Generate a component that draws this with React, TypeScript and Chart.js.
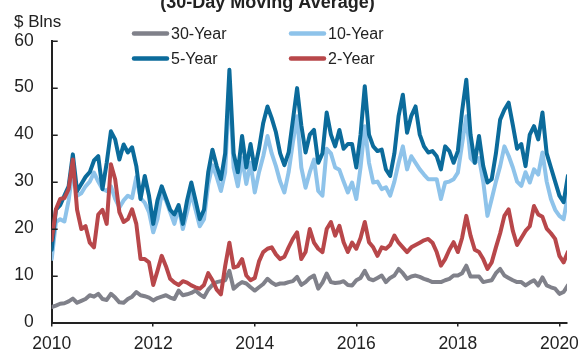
import React, { useEffect, useRef } from 'react';
import { Chart, registerables } from 'chart.js';

Chart.register(...registerables);

// Monthly readings, Jan 2010 .. Mar 2020 ($ billions, 30-day moving average)
const START_YEAR = 2010;

const thirtyYear = [
  3.3, 3.6, 4, 4.1, 4.5, 5.1, 4.2, 4.6, 5, 5.8, 5.5, 6.1,
  5, 4.8, 6.1, 5.3, 4.3, 4.2, 5, 5.5, 6.5, 5.8, 5.6, 5.3,
  4.7, 5.2, 5.5, 5.8, 5.3, 5, 6.8, 5.8, 6, 6.3, 6.8, 6,
  5.4, 7, 8, 8.6, 8.8, 9, 11, 7.2, 8, 8.6, 8.3, 7.5,
  6.8, 7.5, 8.2, 9.3, 8.5, 8, 8.3, 8.3, 8.6, 8.8, 9.7, 8,
  8.6, 9.5, 10, 7.2, 8.5, 10.4, 8.6, 8.4, 8.5, 8.8, 8, 7.9,
  9, 9.5, 11, 9.3, 9, 9.5, 10, 8.6, 9.5, 10, 11.4, 10.5,
  9.3, 9.8, 10, 9.7, 9.3, 9, 8.6, 8.6, 8.6, 9, 9.3, 10,
  10, 10.5, 12.1, 9.8, 9.8, 9.8, 8.6, 8.8, 9, 10.5, 11.4, 10,
  9.5, 9, 8.6, 8.6, 7.9, 8.5, 9, 7.9, 9.6, 7.9, 7.5, 7.2,
  6.1, 6.5, 7.9,
];

const tenYear = [
  13.5, 21.4, 22, 21.5, 26, 32.6, 27, 27.5, 29, 30, 31.9, 30,
  28.4, 28, 29, 26.3, 24.5, 26, 27, 26.5, 31, 26.5, 25.5, 23.5,
  19.2, 22, 27.5, 26, 23.5, 21, 24.5, 19.9, 23.5, 27.5, 24, 20.5,
  22, 29.5, 33.5, 31, 28, 32, 51, 33, 29, 35, 29.5, 34,
  27.7, 32, 35.4, 39.7, 36, 33.3, 30, 27.7, 32, 38.3, 43.9, 33,
  28.7, 32, 34.7, 28, 27, 37, 36, 33, 32.5, 30, 27.7, 29.8,
  26.3, 33, 41.8, 34, 29.8, 30, 28.4, 28.8, 27, 30, 34, 37.5,
  32.6, 35.4, 34, 32.6, 31.5, 30.5, 30.5, 30.5, 26.3, 29.8, 30, 30.5,
  31.9, 38, 43.9, 35, 34, 35, 30, 22.7, 26.3, 30, 33.3, 37.5,
  35.5, 33, 30, 29.1, 32, 29.8, 32.6, 31.5, 36.2, 30, 26.3, 24,
  22.7, 22, 27,
];

const fiveYear = [
  15.5, 24, 25, 27, 29, 35.8, 28, 29.5, 31, 32, 34.5, 35.4,
  28.4, 34, 40.7, 39, 34.7, 37.9, 36.2, 37.3, 33.3, 26.3, 31.2, 27,
  21, 26, 29, 26.5, 24, 23, 25, 21, 26, 29.8, 26, 22,
  24, 32, 36.8, 33.3, 30.5, 36, 53.8, 36, 32, 39.7, 33, 38,
  32.6, 37, 42.5, 46, 43.5, 40.5, 36, 33.5, 36.2, 43, 49.9, 42,
  36.2, 40, 41, 34, 36, 44.7, 40, 37.5, 41, 37, 38, 38,
  33, 40, 50.3, 40, 37.5, 36.5, 36.8, 32.6, 31.2, 36, 44, 48.5,
  40.4, 44, 46, 40, 37.5, 36.2, 36.5, 35.4, 32.6, 37.5, 36.5, 34,
  36.5, 45, 51.7, 40, 34, 39.7, 33.3, 29.8, 30.5, 36, 43.2, 45.3,
  46.8, 42, 37, 38, 33.3, 40, 41.8, 39, 44.7, 36, 33, 30,
  27, 25.6, 31.2,
];

const twoYear = [
  17.5, 24.1, 26.3, 26.5, 28.4, 34.7, 24, 19.9, 20.5, 17, 16, 23,
  24, 21, 33.7, 30.5, 23.5, 21.4, 22, 24.1, 21, 13.5, 13.5, 12.8,
  8, 11, 14.2, 12, 9.3, 8.5, 8, 8.8, 8.5, 7.9, 7.5, 7.2,
  8, 10.5, 9, 7, 6, 12, 17, 11.7, 12, 13.5, 10, 9,
  9.5, 13, 15, 15.7, 16, 14.5, 13.5, 14, 16, 17.8, 19.2, 13.5,
  15, 19.9, 17, 15.7, 15, 19.9, 21.4, 18.5, 20.6, 17.1, 15, 17,
  15.7, 18, 21.4, 17.1, 16, 14.2, 16, 15.7, 16.5, 18.5, 17, 16,
  15, 16, 16.5, 17, 17.5, 17.8, 17, 15, 12.1, 13.5, 15.5, 17.1,
  15, 18, 22.7, 18.5, 15.5, 15, 13.5, 11.4, 12.8, 16, 19, 22.7,
  24.1, 19.5, 16.5, 18, 19.5, 20.5, 24.8, 23, 22.5, 20, 19, 17.8,
  14.2, 12.8, 15,
];

const xTickYears = [2010, 2012, 2014, 2016, 2018, 2020];
const yTickValues = [0, 10, 20, 30, 40, 50, 60];

const seriesLabels = ['30-Year', '10-Year', '5-Year', '2-Year'];
const GRAY = '#80818a';
const LIGHT_BLUE = '#8ec3ea';
const DARK_BLUE = '#0b6b9b';
const RED = '#b8474a';
const seriesColors = [GRAY, LIGHT_BLUE, DARK_BLUE, RED];

const titleText = '(30-Day Moving Average)';
const unitText = '$ Blns';
const FONT = '"Liberation Sans", Arial, sans-serif';
const TEXT = '#222222';

function toPoints(vals: number[]) {
  return vals.map((v, i) => ({ x: START_YEAR + i / 12, y: v }));
}

const overlayPlugin = {
  id: 'overlay',
  afterDraw(chart: any) {
    const ctx = chart.ctx as CanvasRenderingContext2D;
    const { chartArea } = chart;
    const yScale = chart.scales.y;
    ctx.save();
    // inward y ticks
    ctx.strokeStyle = TEXT;
    ctx.lineWidth = 1.5;
    yTickValues.forEach((v) => {
      if (v === 0) return;
      const y = Math.round(yScale.getPixelForValue(v)) + 0.25;
      ctx.beginPath();
      ctx.moveTo(chartArea.left, y);
      ctx.lineTo(chartArea.left + 6, y);
      ctx.stroke();
    });
    // title (partially visible)
    ctx.fillStyle = TEXT;
    ctx.font = `bold 18px ${FONT}`;
    ctx.textAlign = 'center';
    ctx.textBaseline = 'alphabetic';
    ctx.fillText(titleText, 267.5, 7.5);
    // unit label
    ctx.font = `17px ${FONT}`;
    ctx.textAlign = 'left';
    ctx.fillText(unitText, 14, 27);
    // legend
    const cols = [133, 290];
    const rows = [33.5, 58.5];
    const order = [0, 1, 2, 3];
    ctx.font = `16px ${FONT}`;
    ctx.lineCap = 'round';
    order.forEach((k, idx) => {
      const cx = cols[idx % 2];
      const cy = rows[Math.floor(idx / 2)];
      ctx.strokeStyle = seriesColors[k];
      ctx.lineWidth = 4.5;
      ctx.beginPath();
      ctx.moveTo(cx + 1, cy);
      ctx.lineTo(cx + 34, cy);
      ctx.stroke();
      ctx.fillStyle = TEXT;
      ctx.textBaseline = 'middle';
      ctx.fillText(seriesLabels[k], cx + 38, cy + 1);
    });
    ctx.restore();
  },
};

export default function App() {
  const ref = useRef<HTMLCanvasElement | null>(null);
  useEffect(() => {
    if (!ref.current) return;
    const seriesValues = [thirtyYear, tenYear, fiveYear, twoYear];
    const drawOrder = [3, 2, 1, 0]; // first dataset is painted on top
    const datasets = drawOrder.map((k) => ({
      label: seriesLabels[k],
      data: toPoints(seriesValues[k]),
      borderColor: seriesColors[k],
      backgroundColor: seriesColors[k],
      borderWidth: 4,
      pointRadius: 0,
      tension: 0,
      borderJoinStyle: 'round' as const,
      borderCapStyle: 'round' as const,
      fill: false,
    }));
    const chart = new Chart(ref.current, {
      type: 'line',
      data: { datasets },
      options: {
        responsive: false,
        animation: false,
        devicePixelRatio: 1,
        parsing: false as any,
        layout: { padding: { top: 40.7, right: 20, left: 0, bottom: 0 } },
        plugins: {
          legend: { display: false },
          tooltip: { enabled: false },
          title: { display: false },
        },
        scales: {
          x: {
            type: 'linear',
            min: 2010,
            max: 2020.15,
            afterBuildTicks: (s: any) => {
              s.ticks = xTickYears.map((v) => ({ value: v }));
            },
            afterFit: (s: any) => {
              s.height = 27;
            },
            grid: {
              display: true,
              drawOnChartArea: false,
              drawTicks: true,
              tickLength: 4,
              color: TEXT,
              lineWidth: 1.5,
            },
            border: { display: true, color: TEXT, width: 2 },
            ticks: {
              padding: 7,
              color: TEXT,
              font: { family: FONT, size: 17.5 },
              maxRotation: 0,
              autoSkip: false,
              callback: (v: any) => String(v),
            },
          },
          y: {
            type: 'linear',
            min: 0,
            max: 60,
            afterBuildTicks: (s: any) => {
              s.ticks = yTickValues.map((v) => ({ value: v }));
            },
            afterFit: (s: any) => {
              s.width = 51.7;
            },
            grid: { display: true, drawOnChartArea: false, drawTicks: false },
            border: { display: true, color: TEXT, width: 2 },
            ticks: {
              padding: 18,
              color: TEXT,
              font: { family: FONT, size: 17.5 },
              callback: (v: any) => String(v),
            },
          },
        },
      },
      plugins: [overlayPlugin],
    });
    return () => chart.destroy();
  }, []);
  return (
    <div style={{ position: 'fixed', left: 0, top: 0, width: 587, height: 351, background: '#fff' }}>
      <canvas ref={ref} width={587} height={351} style={{ display: 'block' }} />
    </div>
  );
}
